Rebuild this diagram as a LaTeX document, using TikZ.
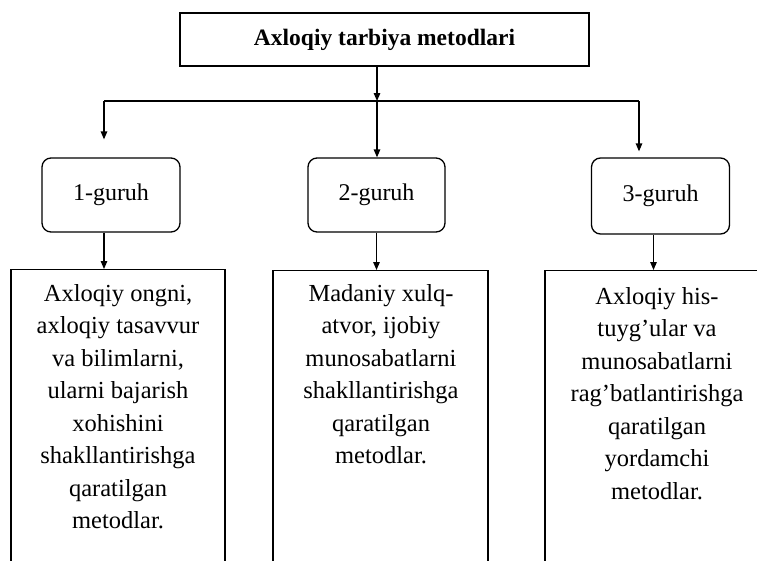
\documentclass[tikz,border=0pt]{standalone}
\usepackage{fontspec}
\setmainfont{Liberation Serif}
\usetikzlibrary{arrows.meta}
\begin{document}
\begin{tikzpicture}[x=1pt,y=-1pt,
  line width=1.3pt,
  arr/.style={-{Triangle[length=8pt,width=6.5pt]}},
  titlebox/.style={draw, rectangle, minimum width=409pt, minimum height=53pt, inner sep=0pt,
    font=\fontsize{23.5}{28}\selectfont\bfseries},
  groupbox/.style={draw, rounded corners=9pt, minimum width=138pt, minimum height=74pt, inner sep=0pt,
    font=\fontsize{24}{28}\selectfont},
  bodybox/.style={draw, rectangle, minimum height=330pt, anchor=north, inner sep=0pt},
  bodytext/.style={anchor=north, align=center, inner sep=0pt,
    font=\fontsize{24.5}{32.5}\selectfont},
]
\useasboundingbox (0,0) rectangle (757,560);
\clip (0,0) rectangle (757,560);

% title
\node[titlebox] (T) at (384.5,39.5) {Axloqiy tarbiya metodlari};

% junctions
\coordinate (j)  at (377,101);
\coordinate (hl) at (104,101);
\coordinate (hr) at (639,101);

% group boxes
\node[groupbox] (g1) at (111,195) {1-guruh};
\node[groupbox, minimum width=137pt] (g2) at (376.5,195) {2-guruh};
\node[groupbox, minimum height=76pt] (g3) at (660.5,196) {3-guruh};

% body boxes (cut by the lower edge)
\node[bodybox, minimum width=214pt] (b1) at (118,269) {};
\node[bodybox, minimum width=215pt] (b2) at (380.5,270) {};
\node[bodybox, minimum width=224pt] (b3) at (657,270) {};

% body texts
\node[bodytext] (t1) at (118,283.5) {Axloqiy ongni,\\axloqiy tasavvur\\va bilimlarni,\\ularni bajarish\\xohishini\\shakllantirishga\\qaratilgan\\metodlar.};
\node[bodytext] (t2) at (381,283.5) {Madaniy xulq-\\atvor, ijobiy\\munosabatlarni\\shakllantirishga\\qaratilgan\\metodlar.};
\node[bodytext] (t3) at (657,286.5) {Axloqiy his-\\tuyg’ular va\\munosabatlarni\\rag’batlantirishga\\qaratilgan\\yordamchi\\metodlar.};

% connectors
\draw[arr] (j |- T.south) -- (j);
\draw (hl) -- (hr);
\draw[arr, shorten >=18pt] (hl) -- (hl |- g1.north);
\draw[arr] (j) -- (j |- g2.north);
\draw[arr, shorten >=6pt] (hr) -- (hr |- g3.north);

\draw[arr] (hl |- g1.south) -- (hl |- b1.north);
\draw[arr] (g2.south) -- (g2.south |- b2.north);
\draw[arr] ([xshift=-7pt]g3.south) -- ([xshift=-7pt]g3.south |- b3.north);
\end{tikzpicture}
\end{document}
